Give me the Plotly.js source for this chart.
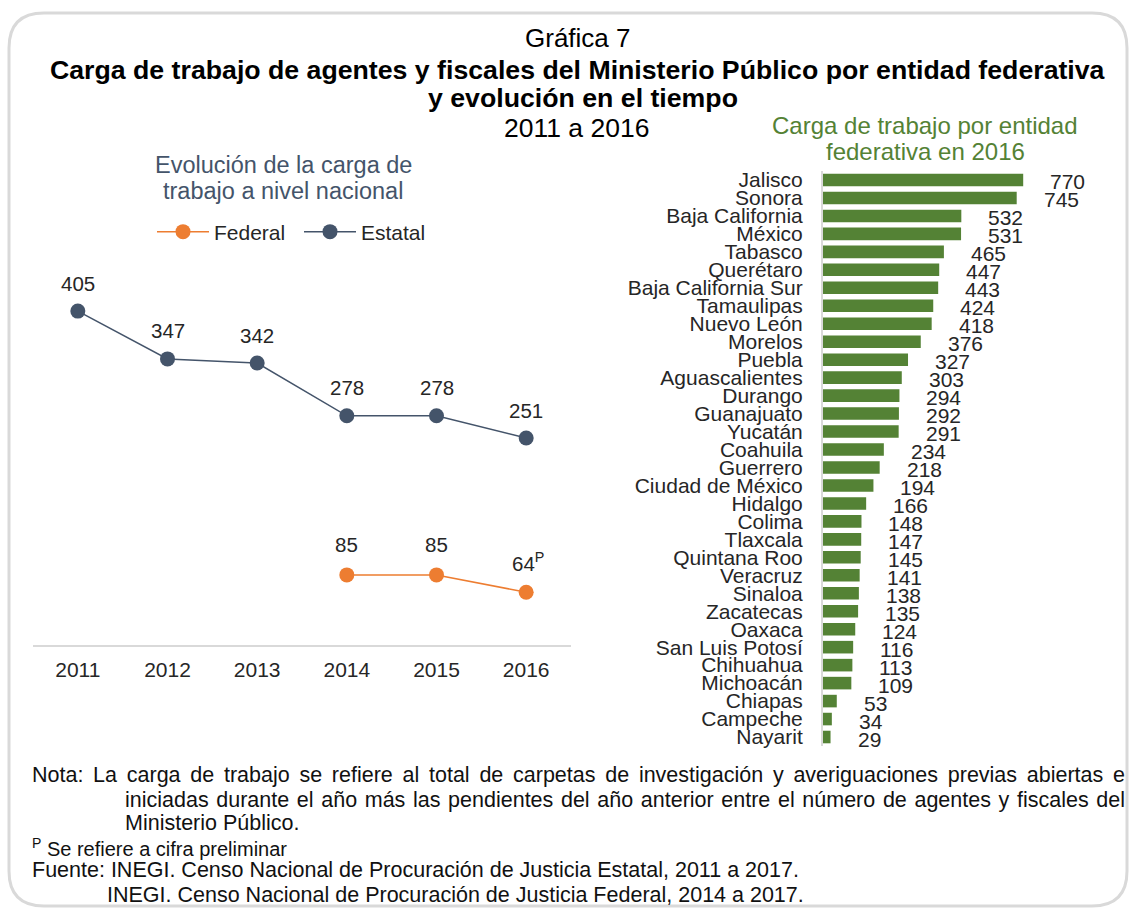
<!DOCTYPE html>
<html>
<head>
<meta charset="utf-8">
<script src="https://cdn.plot.ly/plotly-3.0.1.min.js"></script>
<style>
html,body{margin:0;padding:0;background:#fff;}
#chart{width:1130px;height:911px;}
</style>
</head>
<body>
<div id="chart"></div>
<script>
// ---- Data ----
const years = ['2011', '2012', '2013', '2014', '2015', '2016'];
const estatal = [405, 347, 342, 278, 278, 251];
const federal = [null, null, null, 85, 85, 64];
const federalLabels = ['', '', '', '85', '85', '64<sup>P</sup>'];
const estatalLabels = ['405', '347', '342', '278', '278', '251'];

const entidades = ['Jalisco', 'Sonora', 'Baja California', 'México', 'Tabasco', 'Querétaro',
  'Baja California Sur', 'Tamaulipas', 'Nuevo León', 'Morelos', 'Puebla', 'Aguascalientes',
  'Durango', 'Guanajuato', 'Yucatán', 'Coahuila', 'Guerrero', 'Ciudad de México', 'Hidalgo',
  'Colima', 'Tlaxcala', 'Quintana Roo', 'Veracruz', 'Sinaloa', 'Zacatecas', 'Oaxaca',
  'San Luis Potosí', 'Chihuahua', 'Michoacán', 'Chiapas', 'Campeche', 'Nayarit'];
const carga2016 = [770, 745, 532, 531, 465, 447, 443, 424, 418, 376, 327, 303, 294, 292, 291,
  234, 218, 194, 166, 148, 147, 145, 141, 138, 135, 124, 116, 113, 109, 53, 34, 29];

const titleLines = ['Gráfica 7',
  'Carga de trabajo de agentes y fiscales del Ministerio Público por entidad federativa',
  'y evolución en el tiempo', '2011 a 2016'];
const leftTitle = ['Evolución de la carga de', 'trabajo a nivel nacional'];
const rightTitle = ['Carga de trabajo por entidad', 'federativa en 2016'];
const notes = [
  'Nota: La carga de trabajo se refiere al total de carpetas de investigación y averiguaciones previas abiertas e',
  'iniciadas durante el año más las pendientes del año anterior entre el número de agentes y fiscales del',
  'Ministerio Público.',
  '<sup>P</sup> Se refiere a cifra preliminar',
  'Fuente: INEGI. Censo Nacional de Procuración de Justicia Estatal, 2011 a 2017.',
  'INEGI. Censo Nacional de Procuración de Justicia Federal, 2014 a 2017.'
];

// ---- Layout helpers (pixel -> paper) ----
const W = 1130, H = 911;
const px = v => v / W;
const py = v => 1 - v / H;
const FONT = 'Liberation Sans, Arial, sans-serif';
const cEst = '#44546a', cFed = '#ed7d31', cBar = '#548235', cTxt = '#262626';
const yearIdx = years.map((_, i) => i);

const traces = [
  {
    type: 'scatter', mode: 'lines+markers', name: 'Federal',
    x: yearIdx, y: federal, xaxis: 'x', yaxis: 'y',
    line: {color: cFed, width: 1.5}, marker: {color: cFed, size: 15},
    connectgaps: false
  },
  {
    type: 'scatter', mode: 'lines+markers', name: 'Estatal',
    x: yearIdx, y: estatal, xaxis: 'x', yaxis: 'y',
    line: {color: cEst, width: 1.5}, marker: {color: cEst, size: 15}
  },
  {
    type: 'bar', orientation: 'h', name: 'Carga 2016', showlegend: false,
    x: carga2016, y: entidades, xaxis: 'x2', yaxis: 'y2',
    marker: {color: cBar}
  }
];

const annotations = [];
const centerText = (t, x, y, size, color, bold) => annotations.push({
  xref: 'paper', yref: 'paper', showarrow: false, xanchor: 'center', yanchor: 'middle',
  text: bold ? '<b>' + t + '</b>' : t, x: px(x), y: py(y), font: {size: size, color: color, family: FONT}});
centerText(titleLines[0], 578, 38, 26, '#000', false);
centerText(titleLines[1], 578, 70, 26.7, '#000', true);
centerText(titleLines[2], 583, 98, 26.7, '#000', true);
centerText(titleLines[3], 576, 128, 26.5, '#000', false);
centerText(leftTitle[0], 283, 165, 23.5, cEst, false);
centerText(leftTitle[1], 283, 191, 23.5, cEst, false);
centerText(rightTitle[0], 925, 126, 24, cBar, false);
centerText(rightTitle[1], 925, 152, 24, cBar, false);

// line labels
yearIdx.forEach(i => {
  annotations.push({xref: 'x', yref: 'y', x: i, y: estatal[i], text: estatalLabels[i], showarrow: false,
    yshift: 28, font: {size: 20.5, color: cTxt, family: FONT}});
  if (federal[i] !== null) {
    annotations.push({xref: 'x', yref: 'y', x: i, y: federal[i], text: federalLabels[i], showarrow: false,
      yshift: 30, xshift: federalLabels[i].indexOf('sup') > 0 ? 2 : 0, font: {size: 20.5, color: cTxt, family: FONT}});
  }
});
// bar labels
entidades.forEach((e, i) => {
  annotations.push({xref: 'x2', yref: 'y2', x: carga2016[i], y: i, text: String(carga2016[i]), showarrow: false,
    xanchor: 'left', xshift: 25, yshift: -2, font: {size: 21, color: cTxt, family: FONT}});
});
// notes
const noteX = [30, 123, 123, 30, 30, 105];
const noteY = [775, 800, 823, 847, 870, 895];
const noteSize = [21.5, 21.5, 21.5, 20, 21.5, 21.5];
const noteStart = annotations.length;
notes.forEach((t, i) => {
  annotations.push({xref: 'paper', yref: 'paper', x: px(noteX[i]), y: py(noteY[i]), text: t, showarrow: false,
    xanchor: 'left', yanchor: 'middle', align: 'left', font: {size: noteSize[i], color: '#111', family: FONT}});
});
const justifyTo = {0: 1125, 1: 1125}; // right edge of justified lines

// frame (rounded rectangle)
const L = 9, T = 13, R = 1127, B = 906, r = 35;
const P = (x, y) => px(x) + ',' + py(y);
const framePath = 'M ' + P(L + r, T) + ' L ' + P(R - r, T) + ' Q ' + P(R, T) + ' ' + P(R, T + r) +
  ' L ' + P(R, B - r) + ' Q ' + P(R, B) + ' ' + P(R - r, B) + ' L ' + P(L + r, B) +
  ' Q ' + P(L, B) + ' ' + P(L, B - r) + ' L ' + P(L, T + r) + ' Q ' + P(L, T) + ' ' + P(L + r, T) + ' Z';

const layout = {
  width: W, height: H,
  margin: {l: 0, r: 0, t: 0, b: 0},
  paper_bgcolor: '#fff', plot_bgcolor: 'rgba(0,0,0,0)',
  font: {family: FONT, color: cTxt},
  showlegend: true,
  legend: {orientation: 'h', x: px(152), y: py(232), xanchor: 'left', yanchor: 'middle',
    itemwidth: 52, entrywidth: 80, entrywidthmode: 'pixels',
    font: {size: 21, color: cTxt, family: FONT}, bgcolor: 'rgba(0,0,0,0)'},
  xaxis: {domain: [px(33), px(571)], range: [-0.5, 5.5], tickmode: 'array', tickvals: yearIdx, ticktext: years,
    showgrid: false, zeroline: false,
    showline: true, linecolor: '#d9d9d9', linewidth: 2, ticks: '', ticklabelstandoff: 5,
    tickfont: {size: 21, color: cTxt, family: FONT}, anchor: 'y', fixedrange: true},
  yaxis: {domain: [py(645), py(274)], range: [0, 450], showgrid: false, zeroline: false,
    showline: false, showticklabels: false, ticks: '', anchor: 'x', fixedrange: true},
  xaxis2: {domain: [px(823), px(1083)], range: [0, 1000], showgrid: false, zeroline: false,
    showline: false, showticklabels: false, ticks: '', anchor: 'y2', fixedrange: true},
  yaxis2: {domain: [py(746), py(171)], type: 'category', range: [31.5, -0.5],
    tickmode: 'array', tickvals: entidades, ticktext: entidades, showgrid: false,
    zeroline: false, showline: true, linecolor: '#d9d9d9', linewidth: 2, ticks: '',
    ticklabelstandoff: 14, tickfont: {size: 21, color: cTxt, family: FONT}, anchor: 'x2', fixedrange: true},
  bargap: 0.3,
  annotations: annotations,
  shapes: [{type: 'path', xref: 'paper', yref: 'paper', path: framePath,
    line: {color: '#d9d9d9', width: 3}, fillcolor: 'rgba(0,0,0,0)', layer: 'below'}]
};

Plotly.newPlot('chart', traces, layout, {displayModeBar: false, staticPlot: true}).then(gd => {
  // justify the first two note lines (as in the original's justified paragraph)
  gd.querySelectorAll('.annotation').forEach(g => {
    const k = +g.getAttribute('data-index') - noteStart;
    if (justifyTo[k] === undefined) return;
    const t = g.querySelector('text.annotation-text');
    if (!t) return;
    const rect = t.getBoundingClientRect();
    const gaps = (notes[k].match(/ /g) || []).length;
    const extra = (justifyTo[k] - rect.left - rect.width) / gaps;
    if (extra > 0) t.style.wordSpacing = extra + 'px';
  });
});
</script>
</body>
</html>
